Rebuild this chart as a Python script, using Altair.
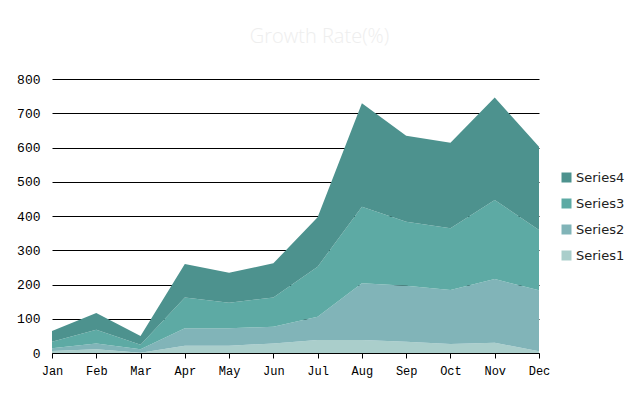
import altair as alt
import pandas as pd

months = ["Jan", "Feb", "Mar", "Apr", "May", "Jun", "Jul", "Aug", "Sep", "Oct", "Nov", "Dec"]
series_names = ["Series1", "Series2", "Series3", "Series4"]
series1 = [6, 11, 1, 21, 21, 28, 38, 38, 33, 26, 30, 5]
series2 = [8, 17, 10, 51, 51, 49, 68, 166, 163, 158, 186, 178]
series3 = [19, 40, 13, 90, 75, 85, 146, 223, 187, 180, 231, 176]
series4 = [31, 49, 26, 98, 87, 100, 144, 302, 251, 250, 299, 243]
colors = ["#aacecb", "#81b4b8", "#5daaa4", "#4d928e"]

rows = []
for idx, (name, vals) in enumerate(zip(series_names, [series1, series2, series3, series4])):
    for m, v in zip(months, vals):
        rows.append({"month": m, "series": name, "value": v, "ord": idx})
df = pd.DataFrame(rows)

legend_domain = series_names[::-1]
legend_range = colors[::-1]

chart = alt.Chart(df).mark_area(opacity=1, interpolate="linear").encode(
    x=alt.X("month:O", sort=months, scale=alt.Scale(type="point", padding=0),
            axis=alt.Axis(title=None, labelAngle=0, domainColor="black", tickColor="black",
                          tickSize=5, labelPadding=7, labelFont="Liberation Mono",
                          labelFontSize=12, labelColor="black", grid=False)),
    y=alt.Y("value:Q", stack="zero", scale=alt.Scale(domain=[0, 800], nice=False),
            axis=alt.Axis(title=None, values=list(range(0, 801, 100)), grid=True,
                          gridColor="black", gridOpacity=1, domain=False, ticks=False,
                          labelPadding=12, labelFont="Liberation Mono", labelFontSize=13,
                          labelColor="black")),
    color=alt.Color("series:N",
                    scale=alt.Scale(domain=legend_domain, range=legend_range),
                    legend=alt.Legend(title=None, orient="none", legendX=508, legendY=92,
                                      symbolType="square", symbolSize=100, symbolStrokeWidth=0,
                                      labelFont="DejaVu Sans", labelFontSize=13,
                                      labelColor="#222222", rowPadding=12, padding=0,
                                      labelOffset=3)),
    order=alt.Order("ord:Q", sort="ascending"),
).properties(
    width=487, height=274,
    title=alt.TitleParams("Growth Rate(%)", fontSize=20, font="Open Sans", fontWeight=300,
                          color="#eeeeee", offset=26, dx=24, anchor="middle"),
    autosize=alt.AutoSizeParams(type="none"),
    padding={"left": 44, "top": 71, "right": 93, "bottom": 35},
).configure_view(stroke=None)

chart.save("out.html", embed_options={"renderer": "svg", "actions": False})
